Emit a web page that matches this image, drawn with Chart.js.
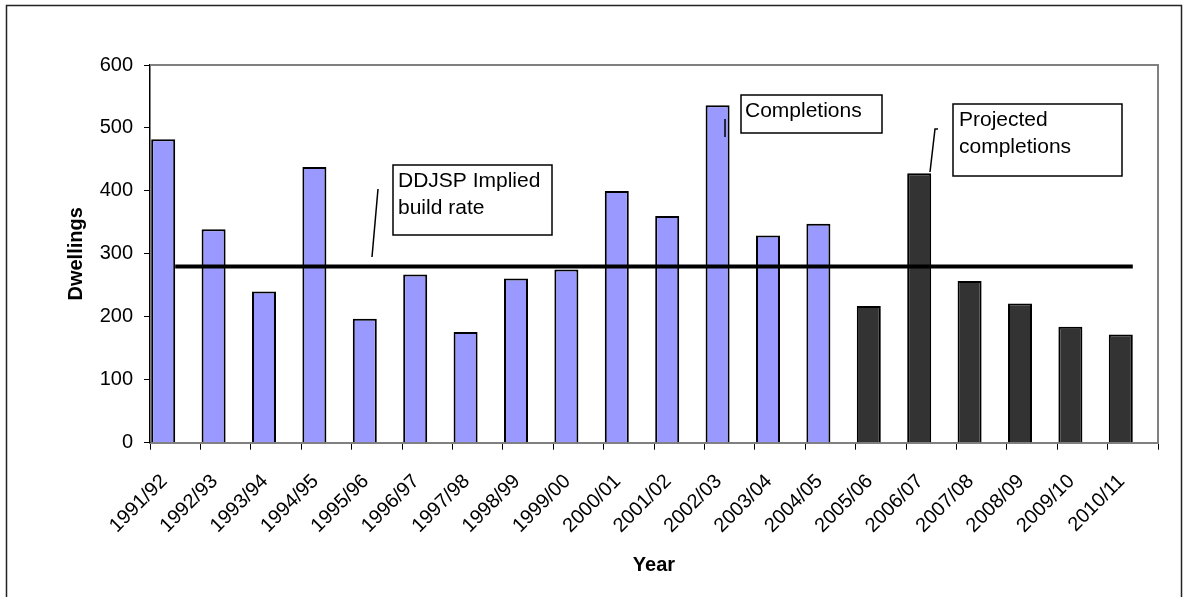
<!DOCTYPE html>
<html>
<head>
<meta charset="utf-8">
<script src="https://cdn.jsdelivr.net/npm/chart.js@4.4.1/dist/chart.umd.min.js"></script>
<style>
  body { margin: 0; background: #fff; }
  canvas { display: block; }
</style>
</head>
<body>
<canvas id="chart" width="1188" height="597"></canvas>
<script>
// Data
const years = ['1991/92', '1992/93', '1993/94', '1994/95', '1995/96', '1996/97', '1997/98',
  '1998/99', '1999/00', '2000/01', '2001/02', '2002/03', '2003/04', '2004/05',
  '2005/06', '2006/07', '2007/08', '2008/09', '2009/10', '2010/11'];
const completions = [482, 339, 240, 438, 197, 267, 176, 261, 275, 400, 360, 536, 329, 348,
  null, null, null, null, null, null];
const projected = [null, null, null, null, null, null, null, null, null, null, null, null, null, null,
  217, 428, 257, 221, 184, 172];
const buildRate = 280;
const yTicks = [0, 100, 200, 300, 400, 500, 600];

const FONT = '"Liberation Sans", Arial, sans-serif';

// text boxes with their pointer lines (page pixels)
const notes = [
  { box: [393, 165, 159, 70], lines: ['DDJSP Implied', 'build rate'], textX: 398, baseY: 187,
    pointer: [[378, 189], [372, 257]] },
  { box: [741, 95, 141, 38], lines: ['Completions'], textX: 745, baseY: 117,
    pointer: [[725, 119], [725, 137]] },
  { box: [953, 104, 169, 72], lines: ['Projected', 'completions'], textX: 959, baseY: 126,
    pointer: [[930, 172], [935, 129], [938, 129]] }
];

const framePlugin = {
  id: 'frame',
  beforeDraw(chart) {
    const ctx = chart.ctx;
    ctx.save();
    ctx.fillStyle = '#fff';
    ctx.fillRect(0, 0, chart.width, chart.height);
    ctx.strokeStyle = '#222';
    ctx.lineWidth = 1.5;
    ctx.strokeRect(6.5, 5.5, 1175, 600);
    ctx.restore();
  },
  beforeDatasetsDraw(chart) {
    const { ctx, chartArea: a } = chart;
    ctx.save();
    ctx.strokeStyle = '#808080';
    ctx.lineWidth = 2;
    ctx.beginPath();
    ctx.moveTo(a.left, a.top);
    ctx.lineTo(a.right, a.top);
    ctx.lineTo(a.right, a.bottom);
    ctx.stroke();
    ctx.restore();
  },
  afterDraw(chart) {
    const ctx = chart.ctx;
    ctx.save();
    ctx.font = '21px ' + FONT;
    ctx.textBaseline = 'alphabetic';
    notes.forEach(n => {
      const [x, y, w, h] = n.box;
      ctx.fillStyle = '#fff';
      ctx.fillRect(x, y, w, h);
      ctx.strokeStyle = '#000';
      ctx.lineWidth = 1.5;
      ctx.strokeRect(x, y, w, h);
      ctx.fillStyle = '#000';
      n.lines.forEach((t, i) => ctx.fillText(t, n.textX, n.baseY + i * 27));
      ctx.beginPath();
      n.pointer.forEach((p, i) => i ? ctx.lineTo(p[0], p[1]) : ctx.moveTo(p[0], p[1]));
      ctx.lineWidth = 1.5;
      ctx.stroke();
    });
    ctx.restore();
  }
};

new Chart(document.getElementById('chart'), {
  data: {
    labels: years,
    datasets: [
      {
        type: 'line',
        data: years.map(() => buildRate),
        borderColor: '#000',
        borderWidth: 4,
        pointRadius: 0,
        order: 0
      },
      {
        type: 'bar',
        data: completions,
        backgroundColor: '#9999ff',
        borderColor: '#000',
        borderWidth: 2,
        stack: 'a',
        order: 1
      },
      {
        type: 'bar',
        data: projected,
        backgroundColor: '#333333',
        borderColor: '#000',
        borderWidth: 2,
        stack: 'a',
        order: 1
      },
      {
        // empty second slot, pushes bars to the left half of each year
        type: 'bar',
        data: years.map(() => null),
        stack: 'b',
        order: 3
      }
    ]
  },
  options: {
    responsive: false,
    animation: false,
    categoryPercentage: 0.953,
    barPercentage: 1,
    layout: { padding: { top: 65, right: 30, bottom: 0, left: 0 } },
    plugins: { legend: { display: false }, tooltip: { enabled: false } },
    scales: {
      x: {
        stacked: true,
        grid: { display: true, drawOnChartArea: false, tickLength: 7, tickColor: '#000', offset: true },
        border: { color: '#808080', width: 2 },
        ticks: {
          autoSkip: false, maxRotation: 45, minRotation: 45,
          padding: 20, labelOffset: -11,
          color: '#000', font: { family: FONT, size: 20 }
        },
        title: {
          display: true, text: 'Year', color: '#000',
          font: { family: FONT, size: 20, weight: 'bold' },
          padding: { top: 0, bottom: 20 }
        },
        afterFit(scale) { scale.height = 154.3; }
      },
      y: {
        stacked: false,
        min: 0, max: 600,
        afterBuildTicks(scale) { scale.ticks = yTicks.map(v => ({ value: v })); },
        grid: { display: true, drawOnChartArea: false, tickLength: 6, tickColor: '#000' },
        border: { color: '#000', width: 1.5 },
        ticks: { padding: 11, color: '#000', font: { family: FONT, size: 20 } },
        title: {
          display: true, text: 'Dwellings', color: '#000',
          font: { family: FONT, size: 20, weight: 'bold' },
          padding: { top: 64, bottom: 0 }
        },
        afterFit(scale) { scale.width = 150; }
      }
    }
  },
  plugins: [framePlugin]
});
</script>
</body>
</html>
